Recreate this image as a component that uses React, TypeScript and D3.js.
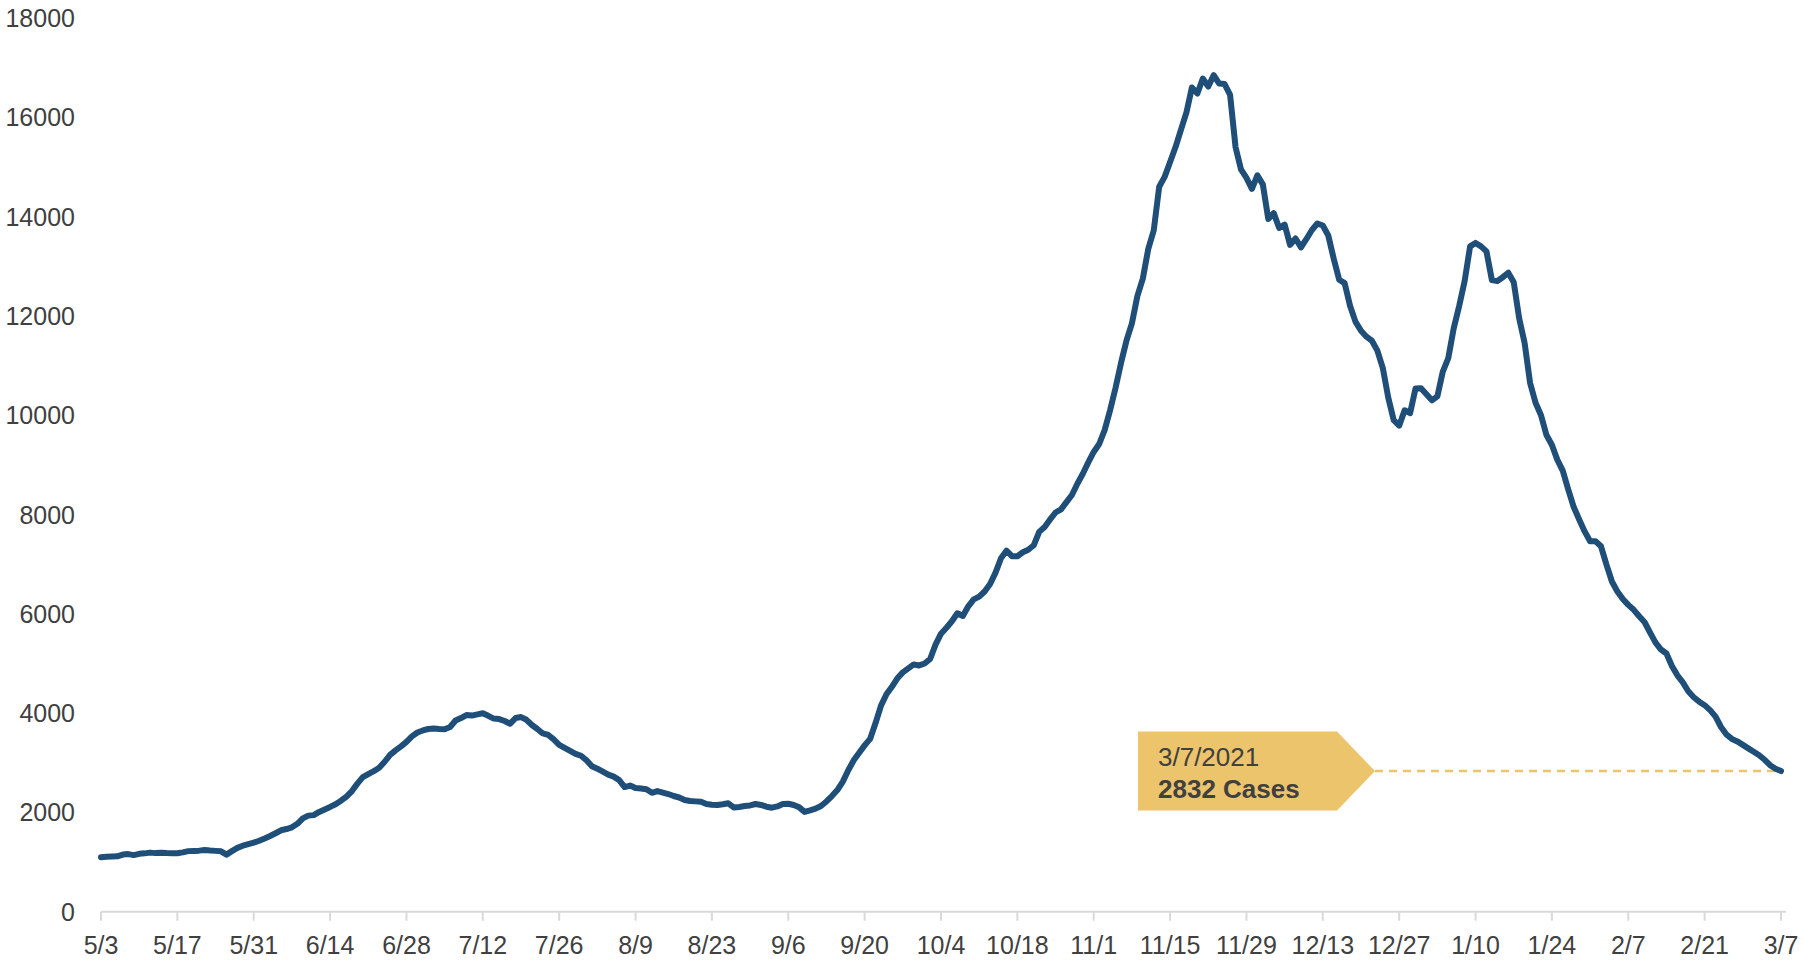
import { useRef, useEffect } from 'react';
import * as d3 from 'd3';

// daily 7-day avg cases (5/3/2020 .. 3/7/2021)
const mayCases = [1096, 1105, 1110, 1115, 1150, 1160, 1140, 1165, 1175, 1190, 1180, 1185, 1180, 1178, 1176, 1195, 1220, 1225, 1230, 1243, 1232, 1225, 1216, 1150, 1220, 1285, 1329, 1360, 1390];
const junCases = [1430, 1475, 1525, 1580, 1640, 1665, 1700, 1770, 1880, 1935, 1945, 2010, 2060, 2110, 2165, 2235, 2320, 2430, 2580, 2710, 2770, 2830, 2900, 3020, 3160, 3250, 3330, 3420, 3530, 3610];
const julCases = [3650, 3680, 3690, 3680, 3675, 3720, 3850, 3900, 3960, 3950, 3975, 3996, 3945, 3890, 3880, 3840, 3785, 3900, 3920, 3865, 3760, 3680, 3590, 3560, 3470, 3360, 3300, 3240, 3180, 3140, 3050];
const augCases = [2930, 2880, 2820, 2760, 2720, 2650, 2510, 2540, 2490, 2480, 2465, 2395, 2430, 2400, 2370, 2330, 2300, 2250, 2230, 2222, 2215, 2170, 2155, 2150, 2165, 2183, 2100, 2110, 2129, 2140, 2169];
const sepCases = [2150, 2115, 2095, 2120, 2170, 2175, 2150, 2102, 2010, 2040, 2075, 2130, 2220, 2330, 2450, 2620, 2850, 3050, 3200, 3350, 3480, 3800, 4150, 4380, 4530, 4700, 4820, 4900, 4980, 4960];
const octCases = [5000, 5090, 5380, 5600, 5720, 5850, 6010, 5956, 6150, 6290, 6345, 6450, 6600, 6830, 7120, 7270, 7160, 7160, 7240, 7290, 7380, 7650, 7750, 7900, 8040, 8104, 8250, 8393, 8620, 8820, 9050];
const novCases = [9260, 9420, 9700, 10100, 10550, 11050, 11500, 11850, 12400, 12750, 13350, 13720, 14600, 14800, 15100, 15400, 15750, 16100, 16600, 16480, 16780, 16620, 16850, 16680, 16670, 16450, 15400, 14950, 14780, 14560];
const decCases = [14830, 14650, 13950, 14070, 13770, 13840, 13430, 13560, 13380, 13550, 13730, 13860, 13820, 13620, 13150, 12730, 12660, 12200, 11880, 11700, 11581, 11500, 11300, 10950, 10350, 9900, 9790, 10100, 10040, 10540, 10541];
const janCases = [10420, 10300, 10380, 10880, 11150, 11750, 12200, 12700, 13400, 13470, 13400, 13300, 12720, 12703, 12780, 12870, 12680, 11950, 11450, 10650, 10250, 10000, 9600, 9400, 9100, 8880, 8500, 8150, 7900, 7660, 7460];
const febCases = [7460, 7360, 6990, 6650, 6450, 6300, 6180, 6080, 5950, 5830, 5620, 5420, 5280, 5200, 4950, 4760, 4620, 4440, 4320, 4230, 4160, 4060, 3930, 3720, 3570, 3480, 3430, 3360];
const marCases = [3290, 3220, 3150, 3060, 2950, 2880, 2832];

const startDate = new Date(2020, 4, 3);
const endDate = new Date(2021, 2, 7);
const yTicks = [0, 2000, 4000, 6000, 8000, 10000, 12000, 14000, 16000, 18000];
const annotationDate = '3/7/2021';
const annotationText = '2832 Cases';

const App = () => {
  const ref = useRef(null);

  useEffect(() => {
    d3.select(ref.current).selectAll("*").remove();

    const width = 1802;
    const height = 960;
    const svg = d3.select(ref.current);

    const cases = [...mayCases, ...junCases, ...julCases, ...augCases, ...sepCases,
      ...octCases, ...novCases, ...decCases, ...janCases, ...febCases, ...marCases];
    const data = cases.map((v, i) => ({ date: d3.timeDay.offset(startDate, i), value: v }));

    const x = d3.scaleTime().domain([startDate, endDate]).range([101, 1781]);
    const y = d3.scaleLinear().domain([0, 18000]).range([911.7, 18]);

    const fontFamily = "'Liberation Sans', Arial, sans-serif";
    const textColor = "#404040";

    // x axis
    const xTicks = d3.timeDay.range(startDate, d3.timeDay.offset(endDate, 1), 14);
    svg.append("line")
      .attr("x1", x(startDate)).attr("x2", x(endDate) + 5)
      .attr("y1", y(0)).attr("y2", y(0))
      .attr("stroke", "#d9d9d9").attr("stroke-width", 2);

    const xg = svg.append("g").selectAll("g").data(xTicks).join("g")
      .attr("transform", d => `translate(${x(d)},0)`);
    xg.append("line")
      .attr("y1", y(0)).attr("y2", y(0) + 9)
      .attr("stroke", "#d9d9d9").attr("stroke-width", 2);
    xg.append("text")
      .attr("y", 954)
      .attr("text-anchor", "middle")
      .attr("font-family", fontFamily)
      .attr("font-size", 25)
      .attr("fill", textColor)
      .text(d => `${d.getMonth() + 1}/${d.getDate()}`);

    // y axis labels
    svg.append("g").selectAll("text").data(yTicks).join("text")
      .attr("x", 75)
      .attr("y", d => y(d))
      .attr("dy", "0.36em")
      .attr("text-anchor", "end")
      .attr("font-family", fontFamily)
      .attr("font-size", 25)
      .attr("fill", textColor)
      .text(d => d);

    // annotation callout
    const last = data[data.length - 1];
    const ty = y(last.value);
    const tx = x(last.date) - 406;
    svg.append("line")
      .attr("x1", tx).attr("x2", x(last.date))
      .attr("y1", ty).attr("y2", ty)
      .attr("stroke", "#ebc46b")
      .attr("stroke-width", 2.5)
      .attr("stroke-dasharray", "8 6");

    svg.append("path")
      .attr("d", `M${tx - 237},${ty - 39.5} L${tx - 38},${ty - 39.5} L${tx},${ty} L${tx - 38},${ty + 39.5} L${tx - 237},${ty + 39.5} Z`)
      .attr("fill", "#ebc46b");

    svg.append("text")
      .attr("x", tx - 217).attr("y", ty - 5)
      .attr("font-family", fontFamily)
      .attr("font-size", 26)
      .attr("fill", textColor)
      .text(annotationDate);
    svg.append("text")
      .attr("x", tx - 217).attr("y", ty + 26.5)
      .attr("font-family", fontFamily)
      .attr("font-size", 26)
      .attr("font-weight", "bold")
      .attr("fill", textColor)
      .text(annotationText);

    // the line
    const line = d3.line()
      .x(d => x(d.date))
      .y(d => y(d.value));

    svg.append("path")
      .datum(data)
      .attr("d", line)
      .attr("fill", "none")
      .attr("stroke", "#1f4e79")
      .attr("stroke-width", 6)
      .attr("stroke-linejoin", "round")
      .attr("stroke-linecap", "round");

    svg.attr("width", width).attr("height", height);
  }, []);

  return (
    <svg ref={ref} style={{ position: "absolute", left: 0, top: 0, background: "#fff" }} />
  );
};

export default App;
